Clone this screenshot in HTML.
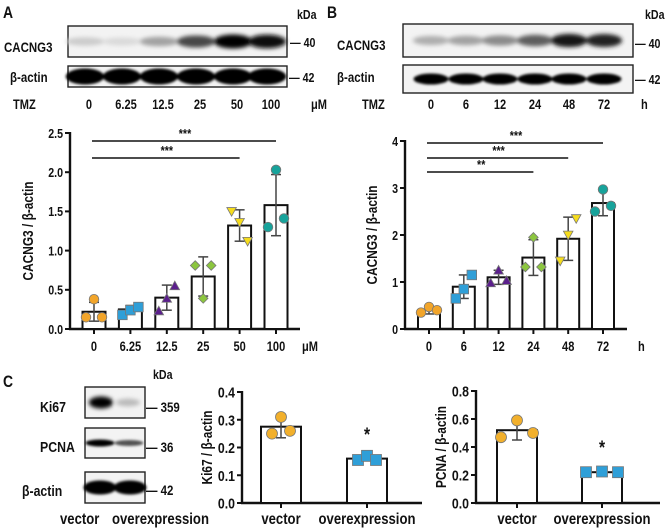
<!DOCTYPE html>
<html><head><meta charset="utf-8"><style>
html,body{margin:0;padding:0;background:#fff}
svg{display:block}
text{font-family:"Liberation Sans",Arial,sans-serif;font-weight:bold;fill:#111}
</style></head><body>
<svg id="fig" width="669" height="529" viewBox="0 0 669 529" xmlns="http://www.w3.org/2000/svg">
<defs>
<filter id="blur2" x="-50%" y="-100%" width="200%" height="300%"><feGaussianBlur stdDeviation="2.2"/></filter>
<filter id="blur1" x="-50%" y="-100%" width="200%" height="300%"><feGaussianBlur stdDeviation="1.3"/></filter>
</defs>
</svg>
<script>
// ---------- data ----------
const catsA = ["0","6.25","12.5","25","50","100"];
const meanA = [0.22,0.25,0.40,0.67,1.32,1.58];
const sdA = [0.12,0.05,0.16,0.25,0.20,0.39];
const ptsA = [[0.15,0.38,0.15],[0.18,0.24,0.28],[0.23,0.39,0.55],[0.81,0.39,0.81],[1.50,1.36,1.12],[1.30,2.03,1.41]];
const ticksA = [0,0.5,1.0,1.5,2.0,2.5];
const tickLabA = ["0.0","0.5","1.0","1.5","2.0","2.5"];

const catsB = ["0","6","12","24","48","72"];
const meanB = [0.40,0.90,1.10,1.52,1.92,2.68];
const sdB = [0.08,0.25,0.15,0.38,0.46,0.27];
const ptsB = [[0.35,0.47,0.40],[0.65,0.85,1.15],[0.98,1.25,1.03],[1.32,1.95,1.32],[1.45,2.00,2.35],[2.50,2.97,2.62]];
const ticksB = [0,1,2,3,4];
const tickLabB = ["0","1","2","3","4"];

const catsC = ["vector","overexpression"];
const meanKi = [0.275,0.16];
const sdKi = [0.04,0.008];
const ptsKi = [[0.25,0.31,0.26],[0.155,0.17,0.155]];
const ticksKi = [0,0.1,0.2,0.3,0.4];
const tickLabKi = ["0.0","0.1","0.2","0.3","0.4"];
const meanPc = [0.52,0.22];
const sdPc = [0.07,0.01];
const ptsPc = [[0.47,0.59,0.50],[0.22,0.225,0.22]];
const ticksPc = [0,0.2,0.4,0.6,0.8];
const tickLabPc = ["0.0","0.2","0.4","0.6","0.8"];

// blot lane intensities (0..1)
const blotA1 = [0.12,0.06,0.3,0.7,1,0.95];
const blotA2 = [1,1,1,1,1,1];
const blotB1 = [0.25,0.3,0.4,0.6,0.9,0.85];
const blotB2 = [1,1,1,1,1,1];
const blotKi = [1,0.2];
const blotPc = [1,0.65];
const blotAc = [1,1];

const svg = document.getElementById('fig');
const NS = "http://www.w3.org/2000/svg";
const SX = 0.82;
function el(tag, attrs, parent){
  const e = document.createElementNS(NS, tag);
  for (const k in attrs) e.setAttribute(k, attrs[k]);
  (parent||svg).appendChild(e);
  return e;
}
function txt(x,y,s,size,anchor,parent){
  const t = el('text',{x:0,y:0,'font-size':size,'text-anchor':anchor||'middle',transform:`translate(${x},${y}) scale(${SX},1)`},parent);
  t.textContent = s;
  return t;
}

const colorsA = ["#f2a52a","#2f9fd8","#5b1f8c","#8cc63f","#f5dc1c","#17a39b"];
const shapesA = ["circle","square","tri","diamond","itri","circle"];

function marker(g, shape, cx, cy, color, r){
  let e;
  if (shape==="circle") e = el('circle',{cx:cx,cy:cy,r:r},g);
  else if (shape==="square") e = el('rect',{x:cx-r,y:cy-r,width:2*r,height:2*r},g);
  else if (shape==="tri") e = el('polygon',{points:`${cx},${cy-r} ${cx-r},${cy+r*0.8} ${cx+r},${cy+r*0.8}`},g);
  else if (shape==="itri") e = el('polygon',{points:`${cx},${cy+r} ${cx-r},${cy-r*0.8} ${cx+r},${cy-r*0.8}`},g);
  else e = el('polygon',{points:`${cx},${cy-r} ${cx+r},${cy} ${cx},${cy+r} ${cx-r},${cy}`},g);
  e.setAttribute('fill', color);
  e.setAttribute('stroke', '#777');
  e.setAttribute('stroke-width', '0.8');
  
  
}

function barChart(o){
  const g = el('g',{});
  
  
  const ys = v => o.y0 - (v - o.vmin)/(o.vmax - o.vmin)*(o.y0 - o.y1);
  const xs = i => o.xc0 + i*o.step;
  const ya = el('line',{x1:o.ax,y1:o.y1-1,x2:o.ax,y2:o.y0+1,stroke:'#111','stroke-width':2.4},g);
   
  const xa = el('line',{x1:o.ax-1,y1:o.y0,x2:o.xend,y2:o.y0,stroke:'#111','stroke-width':2.4},g);
   
  o.ticks.forEach((t,i)=>{
    const y = ys(t);
    el('line',{x1:o.ax-5,y1:y,x2:o.ax,y2:y,stroke:'#111','stroke-width':2},g);
    const l = txt(o.ax-7,y+o.fs*0.37,o.tickLab[i],o.fs,'end',g);
     
  });
  const yt = el('text',{x:0,y:0,'font-size':o.tfs,'text-anchor':'middle',transform:`translate(${o.titleX},${(o.y0+o.y1)/2}) rotate(-90) scale(${SX},1)`},g);
  yt.textContent = o.title;
   
  o.cats.forEach((c,i)=>{
    const x = xs(i);
    el('line',{x1:x,y1:o.y0,x2:x,y2:o.y0+5,stroke:'#111','stroke-width':2},g);
    const l = txt(x,o.labY,c,o.lfs,'middle',g);
     
    const m = o.mean[i];
    const b = el('rect',{x:x-o.bw/2,y:ys(m),width:o.bw,height:o.y0-ys(m),fill:'#fff',stroke:'#111','stroke-width':2},g);
     
    const eu = ys(m+o.sd[i]), ed = ys(Math.max(o.vmin,m-o.sd[i]));
    el('line',{x1:x,y1:eu,x2:x,y2:ed,stroke:'#444','stroke-width':1.5},g);
    el('line',{x1:x-5,y1:eu,x2:x+5,y2:eu,stroke:'#444','stroke-width':1.5},g);
    el('line',{x1:x-5,y1:ed,x2:x+5,y2:ed,stroke:'#444','stroke-width':1.5},g);
    const off = [-o.jit,0,o.jit];
    o.pts[i].forEach((p,j)=>{
      marker(g, o.shapes[i], x+off[j], ys(p), o.colors[i], o.mr);
    });
  });
  (o.sig||[]).forEach(s=>{
    const l = el('line',{x1:xs(s.a)-2,y1:s.y,x2:xs(s.b),y2:s.y,stroke:'#111','stroke-width':1.6},g);
     
    txt((xs(s.a)+xs(s.b))/2, s.y-3, s.t, 13, 'middle', g);
  });
  (o.stars||[]).forEach(s=>{ const t=txt(xs(s.i), s.y, '*', 19, 'middle', g);  });
  if (o.unit){ const u = txt(o.unit.x,o.labY,o.unit.t,o.lfs,'start',g);   }
}

barChart({name:'chart-a',ax:70,y0:329,y1:133,vmin:0,vmax:2.5,xend:300,xc0:94,step:36.4,bw:23,
  cats:catsA,mean:meanA,sd:sdA,pts:ptsA,ticks:ticksA,tickLab:tickLabA,colors:colorsA,shapes:shapesA,
  title:'CACNG3 / β-actin',titleX:33,fs:13,tfs:14.5,lfs:13.5,labY:351,jit:8,mr:4.8,
  sig:[{a:0,b:5,y:141,t:'***'},{a:0,b:4,y:158,t:'***'}],unit:{x:302,t:'μM'}});

barChart({name:'chart-b',ax:405,y0:329,y1:141,vmin:0,vmax:4,xend:627,xc0:429,step:34.8,bw:22,
  cats:catsB,mean:meanB,sd:sdB,pts:ptsB,ticks:ticksB,tickLab:tickLabB,colors:colorsA,shapes:shapesA,
  title:'CACNG3 / β-actin',titleX:377,fs:13,tfs:14.5,lfs:13.5,labY:351,jit:8,mr:4.8,
  sig:[{a:0,b:5,y:143,t:'***'},{a:0,b:4,y:158,t:'***'},{a:0,b:3,y:172,t:'**'}],unit:{x:638,t:'h'}});

barChart({name:'chart-ki67',ax:242,y0:503,y1:392,vmin:0,vmax:0.4,xend:422,xc0:281,step:86,bw:40,
  cats:catsC,mean:meanKi,sd:sdKi,pts:ptsKi,ticks:ticksKi,tickLab:tickLabKi,colors:["#f2b02c","#2f9fd8"],shapes:["circle","square"],
  title:'Ki67 / β-actin',titleX:212,fs:15,tfs:14.5,lfs:16,labY:524,jit:9,mr:5.5,stars:[{i:1,y:441}]});

barChart({name:'chart-pcna',ax:476,y0:503,y1:391,vmin:0,vmax:0.8,xend:660,xc0:517,step:85,bw:40,
  cats:catsC,mean:meanPc,sd:sdPc,pts:ptsPc,ticks:ticksPc,tickLab:tickLabPc,colors:["#f2b02c","#2f9fd8"],shapes:["circle","square"],
  title:'PCNA / β-actin',titleX:446,fs:15,tfs:14.5,lfs:16,labY:524,jit:16,mr:5.5,stars:[{i:1,y:454}]});

// ---------- blots ----------
function blot(name,x,y,w,h,lanes,ints,bh,blurId,wf){
  const g = el('g',{});
  
  
  el('rect',{x:x,y:y,width:w,height:h,fill:'#f3f3f3',stroke:'#222','stroke-width':1.4},g);
  const bg = el('g',{filter:`url(#${blurId})`},g);
  ints.forEach((v,i)=>{
    const c = Math.round(232 - v*232);
    const e = el('ellipse',{cx:lanes[i],cy:y+h/2,rx:(lanes[1]-lanes[0])*(wf||0.5),ry:bh*(0.55+0.45*v),fill:`rgb(${c},${c},${c})`},bg);
     
  });
}
const lanesA = [85,122,159,196,233,267];
const lanesB = [431,466,500,535,569,604];
blot('blot-a-cacng3',68,26,219,31,lanesA,blotA1,7,'blur2',0.52);
blot('blot-a-actin',68,66,219,21,lanesA,blotA2,8,'blur1',0.52);
blot('blot-b-cacng3',403,24,230,33,lanesB,blotB1,7,'blur2',0.52);
blot('blot-b-actin',403,65,230,28,lanesB,blotB2,5.5,'blur1',0.5);
blot('blot-c-ki67',85,387,60,31,[101,128],blotKi,6,'blur2',0.45);
blot('blot-c-pcna',85,428,60,30,[100,129],blotPc,3.5,'blur1',0.5);
blot('blot-c-actin',85,472,60,31,[100,130],blotAc,7,'blur1',0.55);

// labels
const labs = [
 ['panel-label-a',3,18,'A',17,'start'],['panel-label-b',327,18,'B',17,'start'],['panel-label-c',3,387,'C',17,'start'],
 ['kda-label-a',297,19,'kDa',13,'start'],['kda-label-b',645,19,'kDa',13,'start'],['kda-label-c',153,379,'kDa',13,'start'],
 ['cacng3-label-a',4,52,'CACNG3',14,'start'],['actin-label-a',10,82,'β-actin',14,'start'],
 ['cacng3-label-b',337,50,'CACNG3',14,'start'],['actin-label-b',337,82,'β-actin',14,'start'],
 ['mw-40-a',290,47,'— 40',13,'start'],['mw-42-a',289,82,'— 42',13,'start'],
 ['mw-40-b',635,48,'— 40',13,'start'],['mw-42-b',635,84,'— 42',13,'start'],
 ['ki67-label',40,412,'Ki67',15,'start'],['pcna-label',40,452,'PCNA',15,'start'],['actin-label-c',22,496,'β-actin',15,'start'],
 ['mw-359',146,412,'— 359',14,'start'],['mw-36',146,452,'— 36',14,'start'],['mw-42-c',146,495,'— 42',14,'start'],
 ['vector-label-blot',60,524,'vector',16,'start'],['overexp-label-blot',112,524,'overexpression',16,'start'],
 ['tmz-label-a',13,109,'TMZ',13.5,'start'],['tmz-label-b',362,109,'TMZ',13.5,'start'],['unit-um-top',311,109,'μM',13.5,'start'],['unit-h-top',641,109,'h',13.5,'start']
];
labs.forEach(l=>{
  const t = txt(l[1],l[2],l[3],l[4],l[5]);
  
  
});
catsA.forEach((c,i)=>{ const t = txt(lanesA[i]+4,109,c,13.5,'middle');   });
catsB.forEach((c,i)=>{ const t = txt(lanesB[i],109,c,13.5,'middle');   });
</script>
</body></html>
